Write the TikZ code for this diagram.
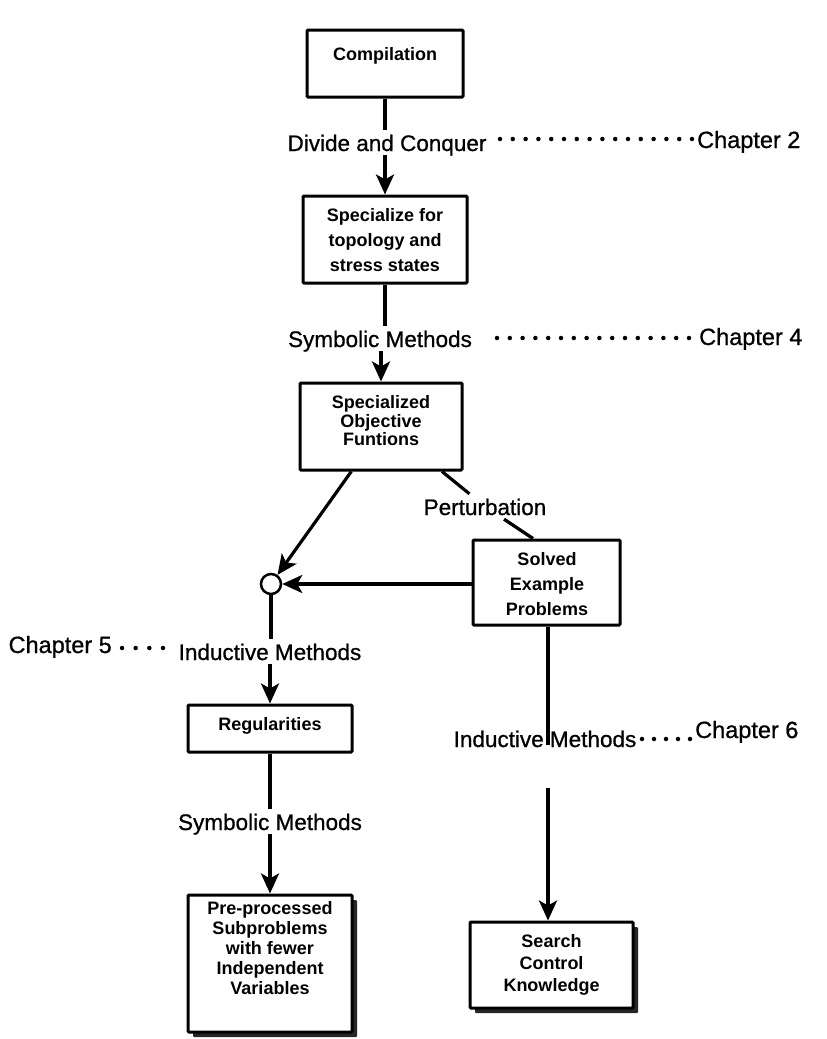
\documentclass[tikz,border=0pt]{standalone}
\usepackage{fontspec}
\setmainfont{Liberation Sans}
\newfontfamily\lblfont[FakeBold=0.8]{Liberation Sans}
\usetikzlibrary{arrows.meta,shadows,calc}
\begin{document}
\begin{tikzpicture}[x=1pt,y=-1pt,
  box/.style={draw, line width=3pt, rounded corners=1pt, fill=white, inner sep=0pt},
  shadowbox/.style={box, drop shadow={shadow xshift=5pt, shadow yshift=-5pt, fill=black!85, opacity=1}},
  boxtext/.style={align=center, inner sep=0pt, font=\fontsize{18}{#1}\selectfont\bfseries},
  boxtext/.default=21,
  lbl/.style={anchor=base, inner xsep=2pt, inner ysep=4pt, text height=17pt, text depth=0pt,
    font=\lblfont\fontsize{22.5}{27}\selectfont},
  chap/.style={inner sep=0pt, font=\lblfont\fontsize{23.5}{28}\selectfont},
  conn/.style={line width=3.2pt},
  arr/.style={conn, -{Stealth[length=20pt, width=18pt, inset=5pt]}},
  leader/.style={line width=4.5pt, line cap=round, dash pattern=on 0pt off #1},
  leader/.default=12.8pt,
  junction/.style={draw, circle, line width=2.5pt, minimum size=20pt, inner sep=0pt, fill=white}
]
\useasboundingbox (0,0) rectangle (827,1039);

% ---- boxes ----
\node[box, minimum width=156pt, minimum height=67pt] (comp) at (385,63.5) {};
\node[boxtext] (compt) at (385,56) {Compilation};

\node[box, minimum width=164pt, minimum height=87pt] (spec) at (385,239.5) {};
\node[boxtext=25] (spect) at (385,240) {Specialize for\\topology and\\stress states};

\node[box, minimum width=162pt, minimum height=87pt] (obj) at (381,426.5) {};
\node[boxtext=18.5] (objt) at (381,421) {Specialized\\Objective\\Funtions};

\node[box, minimum width=147pt, minimum height=85pt] (solved) at (546.5,582.5) {};
\node[boxtext=25] (solvedt) at (547,584) {Solved\\Example\\Problems};

\node[junction] (circ) at (271,584) {};

\node[box, minimum width=164pt, minimum height=47pt] (reg) at (270,728.5) {};
\node[boxtext] (regt) at (270,726) {Regularities};

\node[shadowbox, minimum width=164pt, minimum height=137pt] (pre) at (270,963.5) {};
\node[boxtext=20] (pret) at (270,948) {Pre-processed\\Subproblems\\with fewer\\Independent\\Variables};

\node[shadowbox, minimum width=163pt, minimum height=86pt] (search) at (551.5,965) {};
\node[boxtext=22] (searcht) at (551.5,965) {Search\\Control\\Knowledge};

% ---- method labels ----
\node[lbl] (dc) at (387,151) {Divide and Conquer};
\node[lbl] (sym1) at (380,347) {Symbolic Methods};
\node[lbl] (pert) at (485,515) {Perturbation};
\node[lbl] (ind1) at (270,660) {Inductive Methods};
\node[lbl] (sym2) at (270,830) {Symbolic Methods};
\node[lbl] (ind2) at (545,747) {Inductive Methods};

% ---- chapter references ----
\node[chap, anchor=base west] (ch2) at (697,148) {Chapter 2};
\node[chap, anchor=base west] (ch4) at (699,345) {Chapter 4};
\node[chap, anchor=base east] (ch5) at (112,653) {Chapter 5};
\node[chap, anchor=base west] (ch6) at (695,738) {Chapter 6};

\coordinate (d2a) at (500,139);   \coordinate (d2b) at (692.5,139);
\coordinate (d4a) at (497,338);   \coordinate (d4b) at (689.5,338);
\coordinate (d5a) at (122,648);   \coordinate (d5b) at (163.3,648);
\coordinate (d6a) at (642,739);   \coordinate (d6b) at (690.3,739);
\draw[leader] (d2a) -- (d2b);
\draw[leader] (d4a) -- (d4b);
\draw[leader=13.67pt] (d5a) -- (d5b);
\draw[leader=12pt] (d6a) -- (d6b);

% ---- connectors ----
\draw[conn] (comp.south) -- (comp.south |- dc.north);
\draw[arr] (spec.north |- dc.south) -- (spec.north);
\draw[conn] (spec.south) -- (spec.south |- sym1.north);
\draw[arr] (obj.north |- sym1.south) -- (obj.north);

\coordinate (objleft) at ($(obj.south west)!0.32!(obj.south east)$);
\coordinate (objright) at ($(obj.south west)!0.87!(obj.south east)$);
\coordinate (solvedtop) at ($(solved.north west)!0.41!(solved.north east)$);
\draw[arr] (objleft) -- (circ);
\draw[conn] (objright) -- (pert);
\draw[conn] (pert) -- (solvedtop);
\draw[arr] (solved.west |- circ) -- (circ);

\draw[conn] (circ.south) -- (circ.south |- ind1.north);
\draw[arr] (reg.north |- ind1.south) -- (reg.north);
\draw[conn] (reg.south) -- (reg.south |- sym2.north);
\draw[arr] (pre.north |- sym2.south) -- (pre.north);

\coordinate (s6a) at (548,745);
\coordinate (s6b) at (548,788);
\draw[conn] (solved.south -| s6a) -- (s6a);
\draw[arr] (s6b) -- (search.north -| s6b);
\end{tikzpicture}
\end{document}
